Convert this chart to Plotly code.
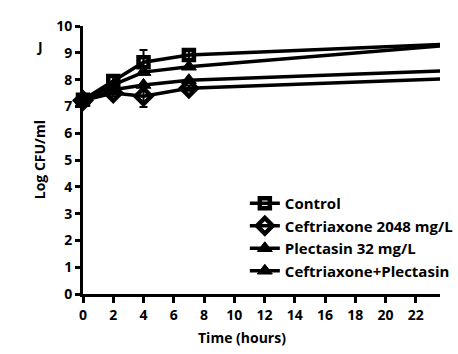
import plotly.graph_objects as go

time_h = [0, 2, 4, 7, 24]
control = [7.25, 7.95, 8.65, 8.92, 9.32]
control_err = [0.08, 0.15, 0.45, 0.2, 0.1]
ceftriaxone = [7.22, 7.5, 7.38, 7.68, 8.03]
ceftriaxone_err = [0.08, 0.12, 0.4, 0.1, 0.1]
plectasin = [7.25, 7.8, 8.28, 8.48, 9.27]
combo = [7.23, 7.62, 7.8, 7.98, 8.33]

x_ticks = list(range(0, 24, 2))
y_ticks = list(range(0, 11))

FONT = "Open Sans"
W, H = 458, 354
ML, MR, MT, MB = 83, 0, 26, 60

fig = go.Figure()

def add(name, y, symbol, size, lw, err=None):
    fig.add_trace(go.Scatter(
        x=time_h, y=y, name=name, mode="lines+markers",
        line=dict(color="black", width=3.5),
        marker=dict(symbol=symbol, size=size, color="black",
                    line=dict(color="black", width=lw)),
        error_y=(dict(type="data", array=err, color="black", thickness=2, width=4)
                 if err else None),
        cliponaxis=False,
    ))

add("Control", control, "square-open", 10, 4.5, control_err)
add("Ceftriaxone 2048 mg/L", ceftriaxone, "diamond-open", 12, 4.5, ceftriaxone_err)
add("Plectasin 32 mg/L", plectasin, "triangle-up", 13, 1)
add("Ceftriaxone+Plectasin", combo, "triangle-up", 13, 1)

pw = W - ML - MR
ph = H - MT - MB
def px_x(px):
    return (px - ML) / pw
def px_y(py):
    return (H - MB - py) / ph

def ann(text, px, py, angle=0):
    return dict(text=text, x=px_x(px), y=px_y(py), xref="paper", yref="paper",
                xanchor="center", yanchor="middle", showarrow=False, textangle=angle,
                font=dict(family=FONT, size=14, weight="bold"))

fig.update_layout(
    width=W, height=H,
    margin=dict(l=ML, r=MR, t=MT, b=MB, pad=0),
    paper_bgcolor="white", plot_bgcolor="white",
    font=dict(family=FONT, color="black", size=14),
    showlegend=True,
    legend=dict(x=px_x(253), y=px_y(187), xanchor="left", yanchor="top",
                font=dict(family=FONT, size=15, color="black", weight="bold"),
                bgcolor="rgba(0,0,0,0)", itemwidth=30, tracegroupgap=0),
    xaxis=dict(range=[0, 23.6], tickvals=x_ticks, ticktext=[str(v) for v in x_ticks],
               showline=True, linecolor="black", linewidth=3,
               ticks="outside", ticklen=6, tickwidth=2.5, tickcolor="black",
               showgrid=False, zeroline=False,
               tickfont=dict(family=FONT, size=14, weight="bold")),
    yaxis=dict(range=[0, 10], tickvals=y_ticks,
               showline=True, linecolor="black", linewidth=3,
               ticks="outside", ticklen=5, tickwidth=2.5, tickcolor="black",
               showgrid=False, zeroline=False,
               tickfont=dict(family=FONT, size=14, weight="bold")),
    annotations=[
        ann("J", 37, 46),
        ann("Log CFU/ml", 37, 160, -90),
        ann("Time (hours)", 250, 337),
        dict(text="24", x=23.85, y=0, xref="x", yref="y", xanchor="center",
             yanchor="middle", yshift=-21, showarrow=False,
             font=dict(family=FONT, size=14, weight="bold")),
    ],
)

fig.write_html(
    "out.html",
    config={"displayModeBar": False},
    post_script="document.body.style.margin='0';document.body.style.overflow='hidden';",
)
